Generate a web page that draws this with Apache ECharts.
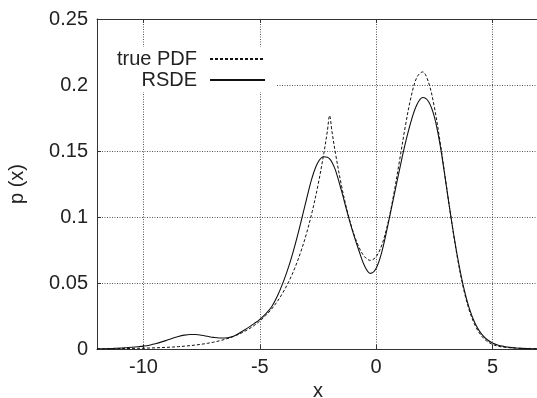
<!DOCTYPE html>
<html><head><meta charset="utf-8">
<script src="https://cdn.jsdelivr.net/npm/echarts@6/dist/echarts.min.js"></script>
<style>html,body{margin:0;padding:0;background:#fff}#c{width:537px;height:398px}</style>
</head><body><div id="c"></div>
<script>
// x sample positions
const xs = [-12,-11.75,-11.5,-11.25,-11,-10.75,-10.5,-10.25,-10,-9.75,-9.5,-9.25,-9,-8.75,-8.5,-8.25,-8,-7.75,-7.5,-7.25,-7,-6.75,-6.5,-6.25,-6,-5.75,-5.5,-5.25,-5,-4.75,-4.5,-4.25,-4,-3.75,-3.5,-3.25,-3,-2.75,-2.5,-2.25,-2.1,-2,-1.9,-1.75,-1.5,-1.25,-1,-0.75,-0.5,-0.25,0,0.25,0.5,0.75,1,1.25,1.5,1.75,2,2.25,2.5,2.75,3,3.25,3.5,3.75,4,4.25,4.5,4.75,5,5.25,5.5,5.75,6,6.25,6.5,6.75,7];
// true PDF (dashed)
const truePdf = [0.00015,0.00018,0.00021,0.00025,0.00030,0.00036,0.00043,0.00052,0.00062,0.00074,0.00088,0.00105,0.00125,0.00149,0.00178,0.00213,0.00254,0.00303,0.00362,0.00432,0.00515,0.00615,0.00734,0.00875,0.01045,0.01247,0.01488,0.01776,0.02119,0.02529,0.03018,0.03601,0.04297,0.05129,0.06120,0.07304,0.08716,0.10402,0.12413,0.14813,0.16478,0.17685,0.16481,0.14831,0.12457,0.10503,0.08938,0.07759,0.06996,0.06716,0.06997,0.07915,0.09494,0.11661,0.14218,0.16833,0.19091,0.20580,0.20992,0.20208,0.18337,0.15672,0.12614,0.09564,0.06838,0.04617,0.02954,0.01800,0.01054,0.00604,0.00347,0.00206,0.00132,0.00092,0.00069,0.00054,0.00043,0.00036,0.00030];
// RSDE estimate (solid)
const rsde = [0.0001,0.0002,0.0003,0.0005,0.0007,0.0010,0.0013,0.0017,0.0022,0.0029,0.0040,0.0052,0.0066,0.0081,0.0095,0.0105,0.0110,0.0110,0.0104,0.0096,0.0088,0.0083,0.0083,0.0090,0.0108,0.0135,0.0162,0.0192,0.0225,0.0266,0.0318,0.0400,0.0505,0.0630,0.0780,0.0950,0.1130,0.1300,0.1415,0.1457,0.1452,0.1440,0.1415,0.1355,0.1205,0.1040,0.0885,0.0750,0.0630,0.0573,0.0612,0.0740,0.0935,0.1145,0.1355,0.1555,0.1725,0.1850,0.1905,0.1875,0.1760,0.1545,0.1255,0.0960,0.0695,0.0475,0.0310,0.0195,0.0120,0.0074,0.0046,0.0029,0.0019,0.0012,0.0008,0.0005,0.0003,0.0002,0.0001];
const xTicks = [-10,-5,0,5];
const seriesNames = ['true PDF','RSDE'];

const FONT = 'Liberation Sans, Arial, Helvetica, sans-serif';
const chart = echarts.init(document.getElementById('c'), null, {renderer:'canvas'});
const axisCol = '#333';
const gridLine = {show:true, lineStyle:{color:'#555', width:1, type:[1,1.5]}};
chart.setOption({
  animation:false,
  backgroundColor:'#fff',
  grid:{left:97, top:19, right:-2, bottom:49, containLabel:false, outerBoundsMode:'none'},
  legend:{
    orient:'vertical', left:98, top:47, align:'right',
    padding:[2,10,2,19], itemGap:1, itemWidth:55, itemHeight:20,
    backgroundColor:'#fff',
    itemStyle:{opacity:0, color:'transparent', borderColor:'transparent', borderWidth:0},
    textStyle:{fontSize:20, color:'#222', fontFamily:FONT, padding:[0,8,0,0]},
    data:seriesNames
  },
  xAxis:[{
    type:'value', min:-12, max:7, splitNumber:4, position:'bottom',
    name:'x', nameLocation:'middle', nameGap:27,
    nameTextStyle:{fontSize:20, color:'#222', fontFamily:FONT},
    axisLine:{show:true, onZero:false, lineStyle:{color:axisCol, width:1}},
    axisTick:{show:true, inside:true, length:4, customValues:xTicks, lineStyle:{color:axisCol}},
    axisLabel:{customValues:xTicks, fontSize:20, color:'#222', fontFamily:FONT, margin:8},
    splitLine:gridLine
  },{
    type:'value', min:-12, max:7, splitNumber:4, position:'top',
    axisLine:{show:true, onZero:false, lineStyle:{color:axisCol, width:1}},
    axisTick:{show:true, inside:true, length:4, customValues:xTicks, lineStyle:{color:axisCol}},
    axisLabel:{show:false}, splitLine:{show:false}
  }],
  yAxis:[{
    type:'value', min:0, max:0.25, interval:0.05,
    name:'p (x)', nameLocation:'middle', nameGap:70,
    nameTextStyle:{fontSize:20, color:'#222', fontFamily:FONT},
    axisLine:{show:true, onZero:false, lineStyle:{color:axisCol, width:1}},
    axisTick:{show:true, inside:true, length:4, lineStyle:{color:axisCol}},
    axisLabel:{fontSize:20, color:'#222', fontFamily:FONT, margin:9},
    splitLine:gridLine
  }],
  series:[{
    name:seriesNames[0], type:'line', symbol:'none', smooth:0.35,
    data:xs.map((x,i)=>[x,truePdf[i]]),
    lineStyle:{color:'#111', width:1, type:[3,2]}, itemStyle:{color:'#111'}
  },{
    name:seriesNames[1], type:'line', symbol:'none', smooth:0.35,
    data:xs.map((x,i)=>[x,rsde[i]]),
    lineStyle:{color:'#111', width:1.1}, itemStyle:{color:'#111'}
  }]
});
</script></body></html>
